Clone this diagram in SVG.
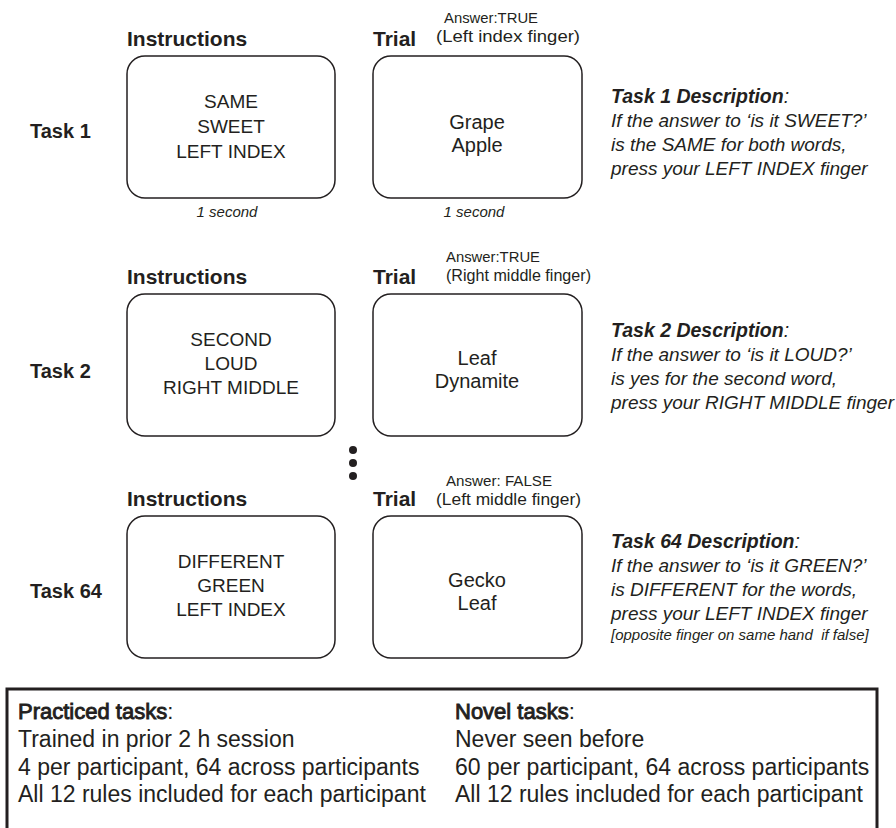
<svg xmlns="http://www.w3.org/2000/svg" width="896" height="828" viewBox="0 0 896 828">
<style>
text{font-family:'Liberation Sans',Arial,sans-serif;fill:#231f20}
.hdr{font-weight:bold;font-size:21px}
.task{font-weight:bold;font-size:20px}
.ans{font-size:15.5px}
.par{font-size:16.5px}
.box{fill:#fff;stroke:#231f20;stroke-width:1.5}
.bt{font-size:19px;text-anchor:middle}
.tt{font-size:20px;text-anchor:middle}
.sec{font-size:15px;font-style:italic;text-anchor:middle}
.dt{font-size:19.5px;font-style:italic;font-weight:bold}
.dl{font-size:19px;font-style:italic}
.note{font-size:15px;font-style:italic}
.bot{font-size:23px}
.bh{font-size:22px;stroke:#231f20;stroke-width:0.9}
.dot{fill:#231f20}
</style>
<rect width="896" height="828" fill="#fff"/>

<g id="task1">
  <text class="task" x="30" y="138">Task 1</text>
  <text class="hdr" x="127" y="46">Instructions</text>
  <text class="hdr" x="373" y="46">Trial</text>
  <text class="ans" x="444" y="23" textLength="94" lengthAdjust="spacingAndGlyphs">Answer:TRUE</text>
  <text class="par" x="436" y="42" textLength="144" lengthAdjust="spacingAndGlyphs">(Left index finger)</text>
  <rect id="t1-instr" class="box" x="127" y="56" width="208" height="142" rx="18"/>
  <rect id="t1-trial" class="box" x="373" y="56" width="209" height="142" rx="18"/>
  <text class="bt" x="231" y="108">SAME</text>
  <text class="bt" x="231" y="133">SWEET</text>
  <text class="bt" x="231" y="158">LEFT INDEX</text>
  <text class="tt" x="477" y="129">Grape</text>
  <text class="tt" x="477" y="152">Apple</text>
  <text class="sec" x="227" y="217">1 second</text>
  <text class="sec" x="474" y="217">1 second</text>
  <text class="dt" x="611" y="103">Task 1 Description<tspan font-weight="normal">:</tspan></text>
  <text class="dl" x="611" y="127">If the answer to ‘is it SWEET?’</text>
  <text class="dl" x="611" y="151">is the SAME for both words,</text>
  <text class="dl" x="611" y="175">press your LEFT INDEX finger</text>
</g>

<g id="task2">
  <text class="task" x="30" y="378">Task 2</text>
  <text class="hdr" x="127" y="284">Instructions</text>
  <text class="hdr" x="373" y="284">Trial</text>
  <text class="ans" x="446" y="262" textLength="94" lengthAdjust="spacingAndGlyphs">Answer:TRUE</text>
  <text class="par" x="446" y="281" textLength="145" lengthAdjust="spacingAndGlyphs">(Right middle finger)</text>
  <rect id="t2-instr" class="box" x="127" y="294" width="208" height="142" rx="18"/>
  <rect id="t2-trial" class="box" x="373" y="294" width="209" height="142" rx="18"/>
  <text class="bt" x="231" y="346">SECOND</text>
  <text class="bt" x="231" y="370">LOUD</text>
  <text class="bt" x="231" y="394">RIGHT MIDDLE</text>
  <text class="tt" x="477" y="365">Leaf</text>
  <text class="tt" x="477" y="388">Dynamite</text>
  <text class="dt" x="611" y="337">Task 2 Description<tspan font-weight="normal">:</tspan></text>
  <text class="dl" x="611" y="361">If the answer to ‘is it LOUD?’</text>
  <text class="dl" x="611" y="385">is yes for the second word,</text>
  <text class="dl" x="611" y="409">press your RIGHT MIDDLE finger</text>
</g>

<g id="ellipsis">
  <circle class="dot" cx="353" cy="450" r="4"/>
  <circle class="dot" cx="353" cy="463" r="4"/>
  <circle class="dot" cx="353" cy="476" r="4"/>
</g>

<g id="task64">
  <text class="task" x="30" y="598">Task 64</text>
  <text class="hdr" x="127" y="506">Instructions</text>
  <text class="hdr" x="373" y="506">Trial</text>
  <text class="ans" x="446" y="486" textLength="106" lengthAdjust="spacingAndGlyphs">Answer: FALSE</text>
  <text class="par" x="436" y="505" textLength="145" lengthAdjust="spacingAndGlyphs">(Left middle finger)</text>
  <rect id="t64-instr" class="box" x="127" y="516" width="208" height="142" rx="18"/>
  <rect id="t64-trial" class="box" x="373" y="516" width="209" height="142" rx="18"/>
  <text class="bt" x="231" y="568">DIFFERENT</text>
  <text class="bt" x="231" y="592">GREEN</text>
  <text class="bt" x="231" y="616">LEFT INDEX</text>
  <text class="tt" x="477" y="587">Gecko</text>
  <text class="tt" x="477" y="610">Leaf</text>
  <text class="dt" x="611" y="548">Task 64 Description<tspan font-weight="normal">:</tspan></text>
  <text class="dl" x="611" y="572">If the answer to ‘is it GREEN?’</text>
  <text class="dl" x="611" y="596">is DIFFERENT for the words,</text>
  <text class="dl" x="611" y="620">press your LEFT INDEX finger</text>
  <text class="note" x="611" y="640" xml:space="preserve">[opposite finger on same hand  if false]</text>
</g>

<g id="summary">
  <rect x="7" y="689" width="870" height="160" fill="none" stroke="#231f20" stroke-width="3"/>
  <text class="bh" x="18" y="719">Practiced tasks<tspan stroke="none">:</tspan></text>
  <text class="bot" x="18" y="747">Trained in prior 2 h session</text>
  <text class="bot" x="18" y="775">4 per participant, 64 across participants</text>
  <text class="bot" x="18" y="802">All 12 rules included for each participant</text>
  <text class="bh" x="455" y="719">Novel tasks<tspan stroke="none">:</tspan></text>
  <text class="bot" x="455" y="747">Never seen before</text>
  <text class="bot" x="455" y="775">60 per participant, 64 across participants</text>
  <text class="bot" x="455" y="802">All 12 rules included for each participant</text>
</g>
</svg>
